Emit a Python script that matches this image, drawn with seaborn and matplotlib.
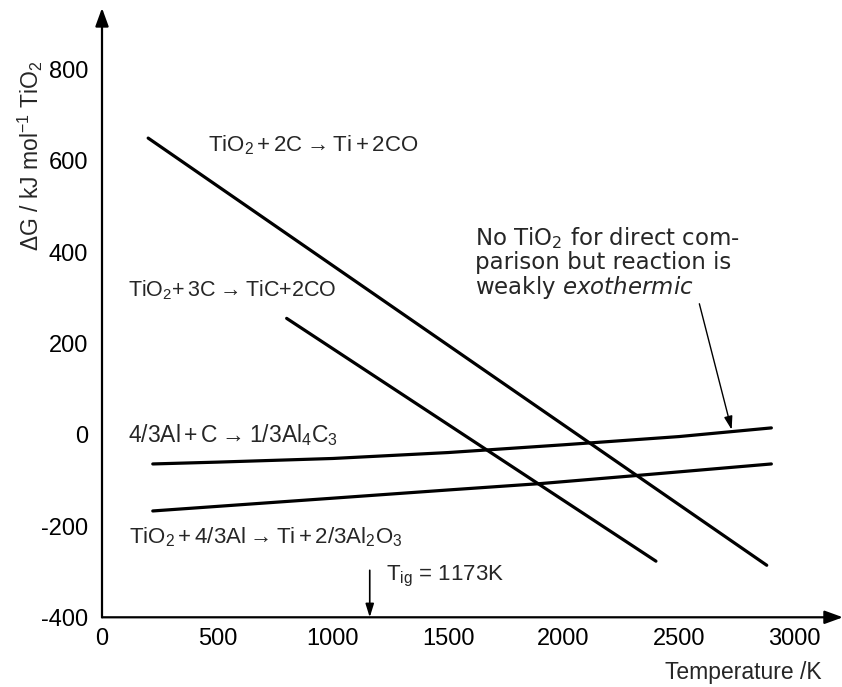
import numpy as np
import pandas as pd
import matplotlib
matplotlib.use("Agg")
import matplotlib.pyplot as plt
import seaborn as sns

# ---- data ----
T_ti = [200, 2880]
G_ti = [650, -286]
T_tic = [800, 2400]
G_tic = [255, -277]
T_al4c3 = [220, 500, 1000, 1500, 2000, 2500, 2900]
G_al4c3 = [-64, -60, -52, -39, -22, -4, 15]
T_al2o3 = [220, 1000, 1500, 1900, 2300, 2900]
G_al2o3 = [-167, -139, -121, -107, -90, -64]

x_ticks = [0, 500, 1000, 1500, 2000, 2500, 3000]
y_ticks = [-400, -200, 0, 200, 400, 600, 800]
T_ig = 1160

labels = {
    "ti": r"TiO$_2\,$+$\,$2C$\rightarrow$Ti$\,$+$\,$2CO",
    "tic": r"TiO$_2$+$\,$3C$\rightarrow$TiC+2CO",
    "al4c3": r"4/3Al$\,$+$\,$C$\rightarrow$1/3Al$_4$C$_3$",
    "al2o3": r"TiO$_2\,$+$\,$4/3Al$\rightarrow$Ti$\,$+$\,$2/3Al$_2$O$_3$",
}

df = pd.concat([
    pd.DataFrame({"T": T_ti, "G": G_ti, "r": "ti"}),
    pd.DataFrame({"T": T_tic, "G": G_tic, "r": "tic"}),
    pd.DataFrame({"T": T_al4c3, "G": G_al4c3, "r": "al4c3"}),
    pd.DataFrame({"T": T_al2o3, "G": G_al2o3, "r": "al2o3"}),
])

sns.set_style("white")
plt.rcParams["font.family"] = ["Liberation Sans", "DejaVu Sans"]
plt.rcParams["mathtext.default"] = "regular"
plt.rcParams["axes.unicode_minus"] = False

fig = plt.figure(figsize=(8.42, 6.87), dpi=100)
ax = fig.add_axes([102 / 842, 69.7 / 687, 738.6 / 842, 607 / 687])

sns.lineplot(data=df, x="T", y="G", units="r", estimator=None, sort=False,
             color="black", linewidth=2.3, ax=ax, legend=False)

ax.set_xlim(0, 3200)
ax.set_ylim(-400, 930)
for s in ax.spines.values():
    s.set_visible(False)

# axes with arrow heads
ax.annotate("", xy=(3210, -400), xytext=(0, -400),
            arrowprops=dict(arrowstyle="-|>,head_length=1.1,head_width=0.4",
                            color="black", lw=1.6, shrinkA=0, shrinkB=0),
            annotation_clip=False)
ax.annotate("", xy=(0, 935), xytext=(0, -400),
            arrowprops=dict(arrowstyle="-|>,head_length=1.1,head_width=0.4",
                            color="black", lw=1.6, shrinkA=0, shrinkB=0),
            annotation_clip=False)

ax.set_xticks(x_ticks)
ax.set_xticklabels([str(v) for v in x_ticks])
ax.set_yticks(y_ticks)
ax.set_yticklabels([str(v) for v in y_ticks])
ax.tick_params(axis="both", direction="in", length=12, width=1.3,
               labelsize=17, colors="black")
ax.tick_params(axis="x", pad=8)
ax.tick_params(axis="y", pad=10)
ax.set_xlabel("")
ax.set_ylabel("")

fs = 16
ax.text(460, 635, labels["ti"], fontsize=fs, va="center", ha="left")
ax.text(113, 317, labels["tic"], fontsize=15.5, va="center", ha="left")
ax.text(113, 0, labels["al4c3"], fontsize=16.5, va="center", ha="left")
ax.text(118, -225, labels["al2o3"], fontsize=fs, va="center", ha="left")

ax.text(1616, 377,
        "No TiO$_2$ for direct com-\nparison but reaction is\nweakly $\\it{exothermic}$",
        fontsize=16.5, family=["DejaVu Sans"], va="center", ha="left",
        linespacing=1.0)
ax.annotate("", xy=(2728, 11), xytext=(2588, 287),
            arrowprops=dict(arrowstyle="-|>,head_length=0.8,head_width=0.25",
                            color="black", lw=1.0, shrinkA=0, shrinkB=0))

# ignition temperature arrow
ax.annotate("", xy=(T_ig, -400), xytext=(T_ig, -297),
            arrowprops=dict(arrowstyle="-|>,head_length=0.8,head_width=0.25",
                            color="black", lw=1.2, shrinkA=0, shrinkB=0))
ax.text(1230, -310, "T$_{ig}$ = 1173K", fontsize=16, va="center", ha="left")

ax.text(3118, -521, "Temperature /K", fontsize=16.5, va="center", ha="right",
        clip_on=False)
fig.text(30 / 842, 1 - 156 / 687, r"$\Delta$G / kJ mol$^{-1}$ TiO$_2$",
         fontsize=16.5, rotation=90, va="center", ha="center")

fig.savefig("out.png", dpi=100)
